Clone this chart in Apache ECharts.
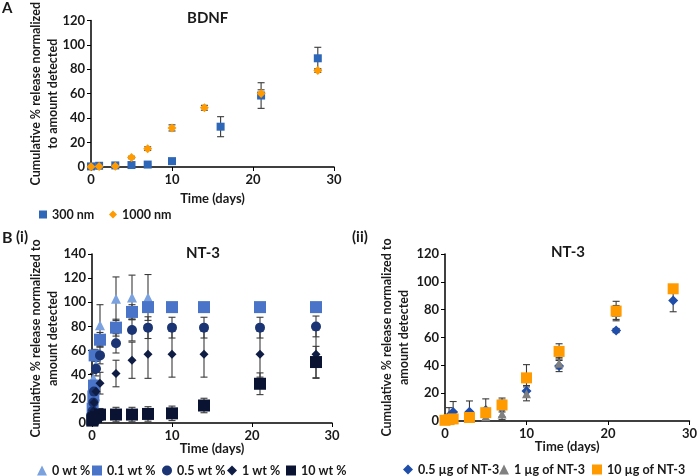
<!DOCTYPE html>
<html><head><meta charset="utf-8">
<script src="https://cdn.jsdelivr.net/npm/echarts@6/dist/echarts.min.js"></script>
<style>html,body{margin:0;padding:0;background:#fff}#c{width:700px;height:476px}</style>
</head><body><div id="c"></div>
<script>
// ---------- Panel A: BDNF ----------
const bdnfDays300 = [0, 1, 3, 5, 7, 10, 16, 21, 28];
const bdnf300 = [0.5, 1, 1.3, 1.6, 2, 4.8, 33, 58.5, 89];
const bdnf300Err = [0.3, 0.3, 0.4, 0.5, 0.5, 0.6, 8.2, 10.5, 9];
const bdnfDays1000 = [0, 1, 3, 5, 7, 10, 14, 21, 28];
const bdnf1000 = [0.3, 0.4, 0.6, 7.8, 15, 32, 48.5, 60.2, 79];
const bdnf1000Err = [0.3, 0.3, 0.4, 1, 1.5, 2.5, 2, 3, 1.5];

// ---------- Panel B(i): NT-3, polymer wt % ----------
const daysB0 = [0.04, 0.08, 0.17, 0.5, 1, 3, 5, 7];
const wt0 = [10, 20, 37, 48, 81, 103, 104, 104];
const wt0Err = [2, 3, 4, 5, 17, 18, 18.5, 19];
const daysBLong = [0.04, 0.08, 0.17, 0.25, 0.33, 1, 3, 5, 7, 10, 14, 21, 28];
const wt01 = [3, 12, 22, 31, 56, 69, 79, 92, 96, 96, 96, 96, 96];
const wt01Err = [1, 2, 3, 4, 5, 6, 7, 6, 3, 1, 1, 1, 1];
const daysB05 = [0.04, 0.08, 0.17, 0.25, 0.5, 1, 3, 5, 7, 10, 14, 21, 28];
const wt05 = [5, 10, 17, 26, 45, 56, 66, 77, 79, 79, 79, 79, 80];
const wt05Err = [1, 2, 3, 4, 6, 7, 8, 9, 9, 8.6, 8.6, 8.6, 8.6];
const wt1 = [3, 6, 10, 17, 26, 33, 41, 52, 57, 57, 57, 57, 57];
const wt1Err = [1, 2, 3, 4, 7, 9, 11, 15, 20, 19, 19, 19, 20];
const daysB10 = [0.04, 0.08, 0.17, 0.5, 1, 3, 5, 7, 10, 14, 21, 28];
const wt10 = [2, 3, 4, 5, 7, 7, 7, 7.5, 8, 14.5, 32.5, 50.5];
const wt10Err = [1, 1, 2, 3, 5, 6, 6, 6, 6, 6, 9, 13];

// ---------- Panel B(ii): NT-3 dose ----------
const daysC = [0, 0.5, 1, 3, 5, 7, 10, 14, 21, 28];
const dose05 = [1, 3.6, 6.5, 6.7, 7.9, 9, 21.5, 39.5, 65, 86.5];
const dose05Err = [2, 6, 7.5, 7.7, 8, 6, 4, 4, 1.5, 8];
const dose1 = [0.5, 1, 1, 2, 3, 5, 19.5, 41.5, 78, 95];
const dose1Err = [0.5, 1, 1, 1.5, 2, 4, 5, 4, 5, 3];
const dose10 = [0.5, 1, 1.5, 2.5, 6, 11.5, 31, 50, 79, 95];
const dose10Err = [0.5, 1, 1, 1.5, 3, 5, 9.5, 5.5, 7, 3];

const legendA = ['300 nm', '1000 nm'];
const legendB = ['0 wt %', '0.1 wt %', '0.5 wt %', '1 wt %', '10 wt %'];
const legendC = ['0.5 µg of NT-3', '1 µg of NT-3', '10 µg of NT-3'];

const FONT = 'Lato';
const TXT = '#1a1a1a';

function pts(xs, ys) { return xs.map((x, i) => [x, ys[i]]); }
function errs(xs, ys, es) { return xs.map((x, i) => [x, ys[i] - es[i], ys[i] + es[i]]); }

function errSeries(idx, data) {
  return {
    type: 'custom', xAxisIndex: idx, yAxisIndex: idx, z: 1, silent: true,
    data: data,
    encode: { x: 0, y: [1, 2] },
    renderItem: function (params, api) {
      const lo = api.coord([api.value(0), api.value(1)]);
      const hi = api.coord([api.value(0), api.value(2)]);
      const w = 3.5;
      const st = { stroke: '#3a3a3a', lineWidth: 1.1 };
      return { type: 'group', children: [
        { type: 'line', shape: { x1: lo[0], y1: lo[1], x2: hi[0], y2: hi[1] }, style: st },
        { type: 'line', shape: { x1: lo[0] - w, y1: lo[1], x2: lo[0] + w, y2: lo[1] }, style: st },
        { type: 'line', shape: { x1: hi[0] - w, y1: hi[1], x2: hi[0] + w, y2: hi[1] }, style: st }
      ]};
    }
  };
}
function sc(idx, name, data, symbol, size, color) {
  return { type: 'scatter', name: name, xAxisIndex: idx, yAxisIndex: idx, z: 3,
    data: data, symbol: symbol, symbolSize: size, itemStyle: { color: color, opacity: 1 } };
}
function xAx(idx, gap) {
  return { gridIndex: idx, type: 'value', min: 0, max: 30, interval: 10,
    name: 'Time (days)', nameLocation: 'middle', nameGap: gap, nameMoveOverlap: false,
    nameTextStyle: { fontFamily: FONT, fontSize: 13, fontWeight: 'bold', color: TXT },
    axisLine: { lineStyle: { color: '#000', width: 1.5 } },
    axisTick: { show: true, length: 4, lineStyle: { color: '#000' } },
    axisLabel: { fontFamily: FONT, fontSize: 13, fontWeight: 'bold', color: TXT, margin: 6 },
    splitLine: { show: false } };
}
function yAx(idx, max, name, gap) {
  return { gridIndex: idx, type: 'value', min: 0, max: max, interval: 20,
    name: name, nameLocation: 'middle', nameGap: gap, nameMoveOverlap: false,
    nameTextStyle: { fontFamily: FONT, fontSize: 12.5, fontWeight: 'bold', color: TXT, lineHeight: 17 },
    axisLine: { show: true, lineStyle: { color: '#000', width: 1.5 } },
    axisTick: { show: true, length: 4, lineStyle: { color: '#000' } },
    axisLabel: { fontFamily: FONT, fontSize: 13, fontWeight: 'bold', color: TXT, margin: 6 },
    splitLine: { show: false } };
}
const legText = { fontFamily: FONT, fontSize: 12.5, fontWeight: 'bold', color: TXT };
function leg(name, iconCenter, top, size) {
  return { data: [name], left: iconCenter - size / 2, top: top, padding: 0,
    itemWidth: size, itemHeight: size, itemGap: 4, textStyle: legText };
}

const C300 = '#2E66B8', C1000 = '#FF9A00';
const Cw0 = '#7BA2DE', Cw01 = '#4A74C8', Cw05 = '#1B3574', Cw1 = '#0F1D45', Cw10 = '#0A1432';
const Cd05 = '#1F4DAA', Cd1 = '#808080', Cd10 = '#FF9A00';

const option = {
  animation: false,
  backgroundColor: '#fff',
  grid: [
    { left: 91, top: 20, width: 243, height: 147 },
    { left: 92, top: 254, width: 240, height: 169 },
    { left: 445, top: 254, width: 249, height: 167 }
  ],
  xAxis: [xAx(0, 25), xAx(1, 19), xAx(2, 19)],
  yAxis: [
    yAx(0, 120, 'Cumulative % release normalized\nto amount detected', 30),
    yAx(1, 140, 'Cumulative % release normalized to\namount detected', 31),
    yAx(2, 120, 'Cumulative % release normalized to\namount detected', 33)
  ],
  legend: [
    leg(legendA[0], 43, 208, 8),
    leg(legendA[1], 113, 208, 8),
    leg(legendB[0], 42, 464, 10),
    leg(legendB[1], 97, 464, 10),
    leg(legendB[2], 167, 464, 10),
    leg(legendB[3], 232, 464, 10),
    leg(legendB[4], 291, 464, 10),
    leg(legendC[0], 408, 463, 10),
    leg(legendC[1], 504, 463, 10),
    leg(legendC[2], 597, 463, 10)
  ],
  graphic: [
    { type: 'text', left: 2, top: 1, style: { text: 'A', font: 'bold 15px ' + FONT, fill: TXT } },
    { type: 'text', left: 187, top: 11, style: { text: 'BDNF', font: 'bold 15px ' + FONT, fill: TXT } },
    { type: 'text', left: 2, top: 230, style: { text: 'B', font: 'bold 16px ' + FONT, fill: TXT } },
    { type: 'text', left: 16, top: 230, style: { text: '(i)', font: 'bold 15px ' + FONT, fill: TXT } },
    { type: 'text', left: 186, top: 246, style: { text: 'NT-3', font: 'bold 15px ' + FONT, fill: TXT } },
    { type: 'text', left: 352, top: 230, style: { text: '(ii)', font: 'bold 15px ' + FONT, fill: TXT } },
    { type: 'text', left: 551, top: 245, style: { text: 'NT-3', font: 'bold 15px ' + FONT, fill: TXT } }
  ],
  series: [
    errSeries(0, errs(bdnfDays300, bdnf300, bdnf300Err)),
    errSeries(0, errs(bdnfDays1000, bdnf1000, bdnf1000Err)),
    sc(0, legendA[0], pts(bdnfDays300, bdnf300), 'rect', 8, C300),
    sc(0, legendA[1], pts(bdnfDays1000, bdnf1000), 'diamond', 9, C1000),

    errSeries(1, errs(daysB0, wt0, wt0Err)),
    errSeries(1, errs(daysBLong, wt01, wt01Err)),
    errSeries(1, errs(daysB05, wt05, wt05Err)),
    errSeries(1, errs(daysB05, wt1, wt1Err)),
    errSeries(1, errs(daysB10, wt10, wt10Err)),
    sc(1, legendB[0], pts(daysB0, wt0), 'triangle', 10, Cw0),
    sc(1, legendB[1], pts(daysBLong, wt01), 'rect', 12, Cw01),
    sc(1, legendB[2], pts(daysB05, wt05), 'circle', 10, Cw05),
    sc(1, legendB[3], pts(daysB05, wt1), 'diamond', 9, Cw1),
    sc(1, legendB[4], pts(daysB10, wt10), 'rect', 12, Cw10),

    errSeries(2, errs(daysC, dose05, dose05Err)),
    errSeries(2, errs(daysC, dose1, dose1Err)),
    errSeries(2, errs(daysC, dose10, dose10Err)),
    sc(2, legendC[0], pts(daysC, dose05), 'diamond', 10, Cd05),
    sc(2, legendC[1], pts(daysC, dose1), 'triangle', 9, Cd1),
    sc(2, legendC[2], pts(daysC, dose10), 'rect', 11, Cd10)
  ]
};
const chart = echarts.init(document.getElementById('c'), null, { renderer: 'canvas' });
chart.setOption(option);
</script></body></html>
